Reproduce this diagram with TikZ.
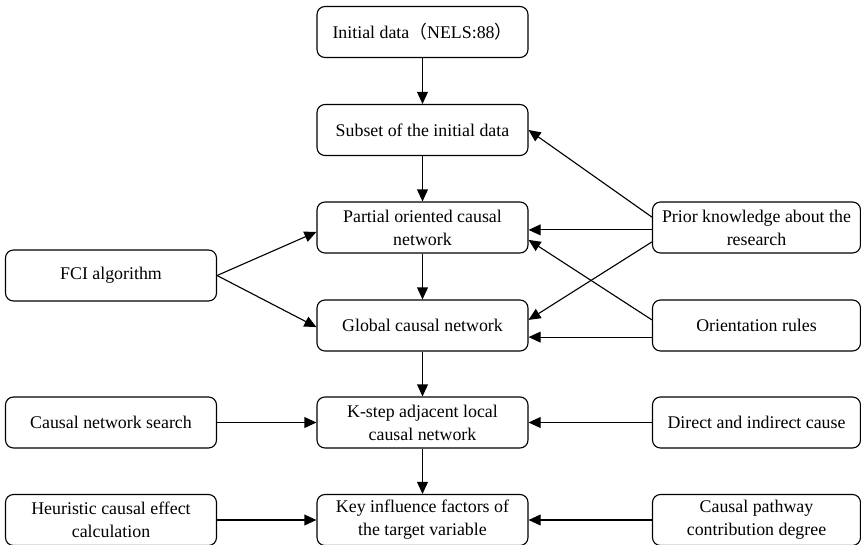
\documentclass[tikz,border=0pt]{standalone}
\usepackage{fontspec}
\setmainfont{Liberation Serif}
\newfontfamily\cjkfont{Noto Sans CJK SC}
\usetikzlibrary{arrows.meta}
\usetikzlibrary{positioning}

\tikzset{
  box/.style={draw, rounded corners=0.2cm, line width=0.8pt,
    minimum width=5.275cm, minimum height=1.275cm, inner sep=0pt,
    align=center, font=\fontsize{12.7}{16.4}\selectfont},
  sidebox/.style={box, minimum width=5.2cm},
  flow/.style={-{Triangle[length=0.3cm, width=0.27cm]}, line width=0.8pt}
}

\begin{document}
\begin{tikzpicture}
      \useasboundingbox (0, 0) rectangle (21.525, -13.625);

      % middle column
      \node [box] (init)    at (10.5625, -0.8)     {Initial data{\cjkfont （}NELS:88{\cjkfont ）}};
      \node [box] (subset)  at (10.5625, -3.25)    {Subset of the initial data};
      \node [box] (partial) at (10.5625, -5.6875)  {Partial oriented causal\\network};
      \node [box] (global)  at (10.5625, -8.1375)  {Global causal network};
      \node [box] (kstep)   at (10.5625, -10.5625) {K-step adjacent local\\causal network};
      \node [box] (keyfac)  at (10.5625, -13.0)    {Key influence factors of\\the target variable};

      % left column
      \node [box] (fci)       at (2.775, -6.8875)  {FCI algorithm};
      \node [box] (search)    at (2.775, -10.5625) {Causal network search};
      \node [box] (heuristic) at (2.775, -13.0)    {Heuristic causal effect\\calculation};

      % right column
      \node [sidebox] (prior)   at (18.9125, -5.6875)  {Prior knowledge about the\\research};
      \node [sidebox] (orient)  at (18.9125, -8.1375)  {Orientation rules};
      \node [sidebox] (direct)  at (18.9125, -10.5625) {Direct and indirect cause};
      \node [sidebox] (pathway) at (18.9125, -13.0)    {Causal pathway\\contribution degree};

      \draw [flow] (init) -- (subset);
      \draw [flow] (subset) -- (partial);
      \draw [flow] (partial) -- (global);
      \draw [flow] (global) -- (kstep);
      \draw [flow] (kstep) -- (keyfac);

      \draw [flow] (fci.east) -- ([yshift=-0.11cm]partial.west);
      \draw [flow] (fci.east) -- ([yshift=-0.04cm]global.west);

      \draw [flow] ([yshift=0.26cm]prior.west) -- (subset.east);
      \draw [flow] ([yshift=-0.06cm]prior.west) -- ([yshift=-0.06cm]partial.east);
      \draw [flow] ([yshift=-0.36cm]prior.west) -- ([yshift=0.14cm]global.east);
      \draw [flow] ([yshift=0.14cm]orient.west) -- ([yshift=-0.31cm]partial.east);
      \draw [flow] ([yshift=-0.29cm]orient.west) -- ([yshift=-0.29cm]global.east);

      \draw [flow] (search) -- (kstep);
      \draw [flow] (direct) -- (kstep);
      \draw [flow] (heuristic) -- (keyfac);
      \draw [flow] (pathway) -- (keyfac);
    \end{tikzpicture}
\end{document}
